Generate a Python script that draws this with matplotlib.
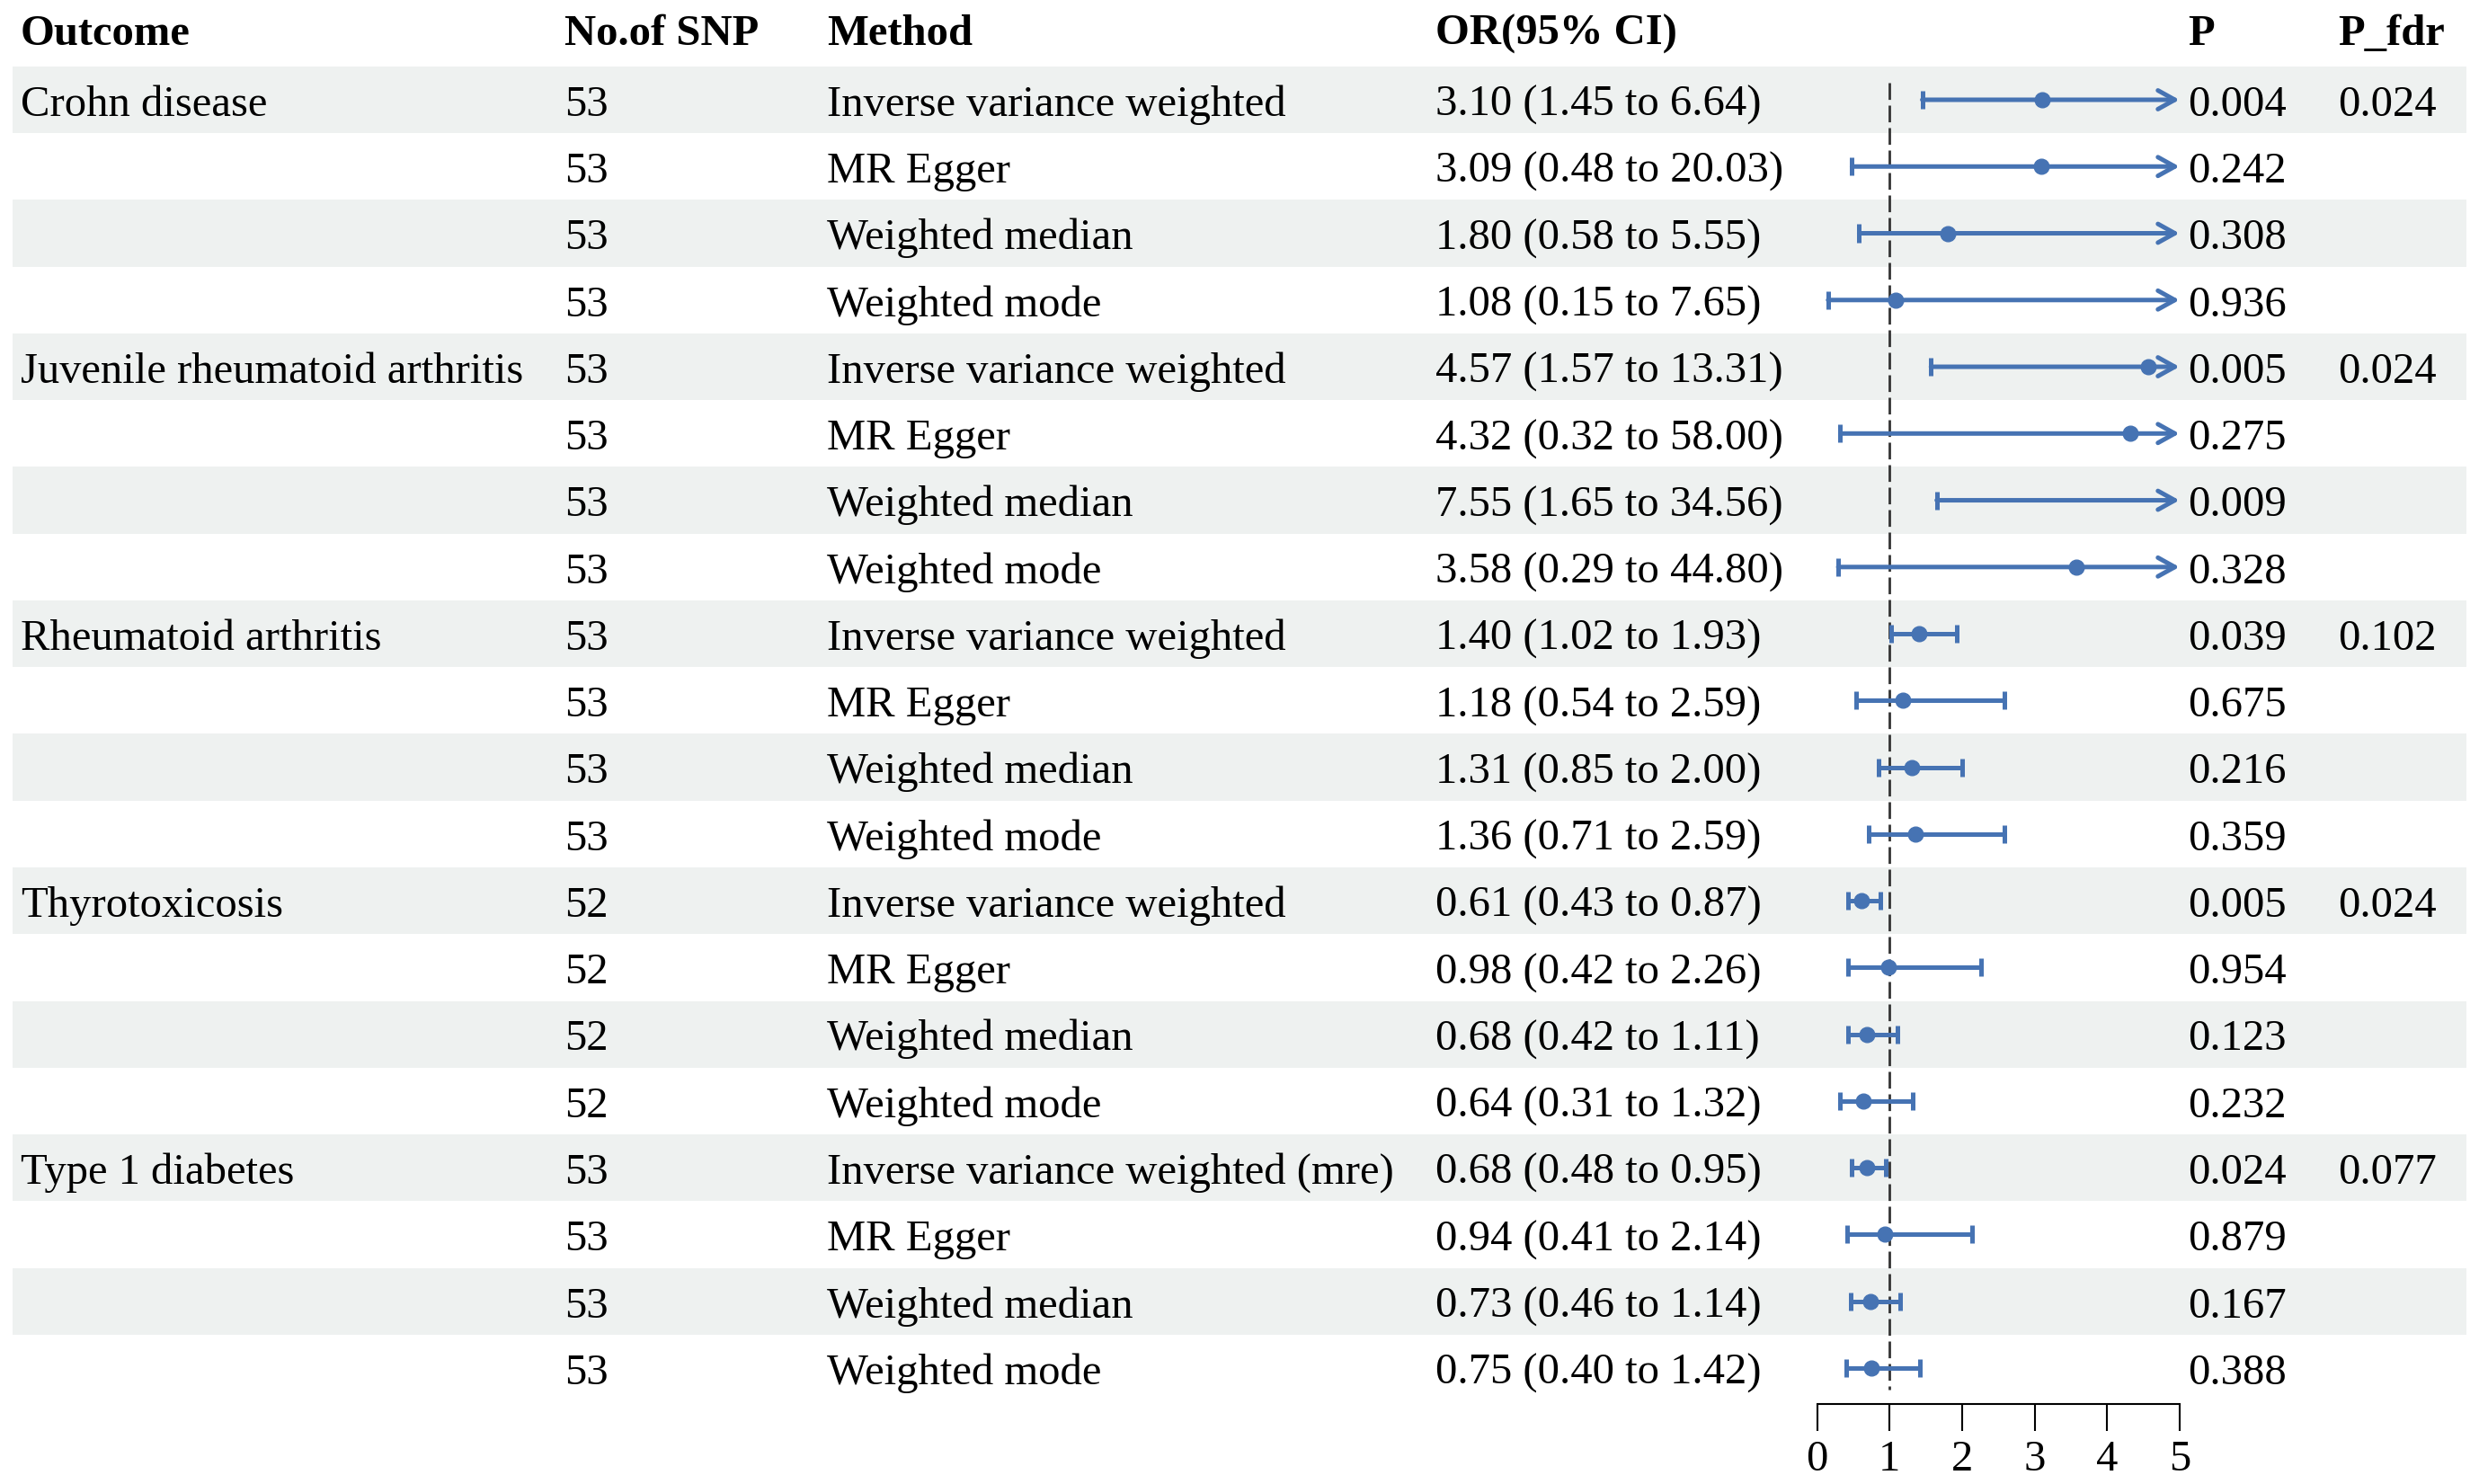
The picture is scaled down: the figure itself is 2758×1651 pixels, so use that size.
import matplotlib.pyplot as plt

plt.rcParams['font.family'] = ['Liberation Serif', 'DejaVu Serif']

outcomes = ["Crohn disease", "Juvenile rheumatoid arthritis", "Rheumatoid arthritis",
            "Thyrotoxicosis", "Type 1 diabetes"]
methods = ["Inverse variance weighted", "MR Egger", "Weighted median", "Weighted mode"] * 4 + \
          ["Inverse variance weighted (mre)", "MR Egger", "Weighted median", "Weighted mode"]
nsnp = [53] * 12 + [52] * 4 + [53] * 4
or_vals = [3.10, 3.09, 1.80, 1.08, 4.57, 4.32, 7.55, 3.58, 1.40, 1.18, 1.31, 1.36,
           0.61, 0.98, 0.68, 0.64, 0.68, 0.94, 0.73, 0.75]
lo_vals = [1.45, 0.48, 0.58, 0.15, 1.57, 0.32, 1.65, 0.29, 1.02, 0.54, 0.85, 0.71,
           0.43, 0.42, 0.42, 0.31, 0.48, 0.41, 0.46, 0.40]
hi_vals = [6.64, 20.03, 5.55, 7.65, 13.31, 58.00, 34.56, 44.80, 1.93, 2.59, 2.00, 2.59,
           0.87, 2.26, 1.11, 1.32, 0.95, 2.14, 1.14, 1.42]
p_vals = ["0.004", "0.242", "0.308", "0.936", "0.005", "0.275", "0.009", "0.328",
          "0.039", "0.675", "0.216", "0.359", "0.005", "0.954", "0.123", "0.232",
          "0.024", "0.879", "0.167", "0.388"]
p_fdr = ["0.024", "0.024", "0.102", "0.024", "0.077"]
xticks = [0, 1, 2, 3, 4, 5]

blue = '#4673b3'
band = '#eef1f0'
fs = 35

W, H = 2758, 1651
row0, step = 111, 74.26


def row_of(px):
    return (px - row0) / step


fig = plt.figure(figsize=(W / 100, H / 100), dpi=100)

# table layer
bg = fig.add_axes([0, 0, 1, 1])
bg.set_xlim(0, W)
bg.set_ylim(row_of(H), row_of(0))
bg.axis('off')

n = len(or_vals)
rows = list(range(n))
bg.barh(rows[::2], 2730, left=14, height=1, color=band, zorder=0)

cols = {'Outcome': 23, 'No.of SNP': 628, 'Method': 920, 'OR(95% CI)': 1597, 'P': 2434, 'P_fdr': 2601}
off = 0.24  # baseline sits a little more than half a cap height below the row centre
hy = row_of(32) + off
for name, x in cols.items():
    bg.text(x, hy, name, fontsize=fs, fontweight='bold', va='baseline', ha='left')

for i in rows:
    y = i + off
    if i % 4 == 0:
        bg.text(cols['Outcome'], y, outcomes[i // 4], fontsize=fs, va='baseline')
        bg.text(cols['P_fdr'], y, p_fdr[i // 4], fontsize=fs, va='baseline')
    bg.text(cols['No.of SNP'], y, str(nsnp[i]), fontsize=fs, va='baseline')
    bg.text(cols['Method'], y, methods[i], fontsize=fs, va='baseline')
    bg.text(cols['OR(95% CI)'], y, f"{or_vals[i]:.2f} ({lo_vals[i]:.2f} to {hi_vals[i]:.2f})",
            fontsize=fs, va='baseline')
    bg.text(cols['P'], y, p_vals[i], fontsize=fs, va='baseline')

# forest layer
ax_bottom = 1562
fax = fig.add_axes([2021.7 / W, (H - ax_bottom) / H, 403 / W, ax_bottom / H])
fax.patch.set_alpha(0)
fax.set_xlim(0, 5)
fax.set_ylim(row_of(ax_bottom), row_of(0))
for s in ['left', 'top', 'right']:
    fax.spines[s].set_visible(False)
fax.spines['bottom'].set_linewidth(1.5)
fax.set_yticks([])
fax.set_xticks(xticks)
fax.tick_params(axis='x', direction='out', length=21.5, width=1.5, labelsize=fs, pad=7)

fax.vlines(1, row_of(92), row_of(1546), colors='#333333', linewidth=2,
           linestyles=(0, (6.7, 2.3)), zorder=1)

lw = 3.6
cap = 0.135
for i in rows:
    lo, hi, o = lo_vals[i], hi_vals[i], or_vals[i]
    fax.vlines(lo, i - cap, i + cap, colors=blue, linewidth=lw, zorder=2)
    if hi > 5:
        fax.annotate('', xy=(5, i), xytext=(lo, i),
                     arrowprops=dict(arrowstyle='->,head_length=0.45,head_width=0.25',
                                     color=blue, lw=lw, shrinkA=0, shrinkB=0,
                                     mutation_scale=30), zorder=2)
    else:
        fax.hlines(i, lo, hi, colors=blue, linewidth=lw, zorder=2)
        fax.vlines(hi, i - cap, i + cap, colors=blue, linewidth=lw, zorder=2)
    if o <= 5:
        fax.plot(o, i, 'o', ms=12, color=blue, zorder=3)

fig.savefig('out.png', dpi=100)
